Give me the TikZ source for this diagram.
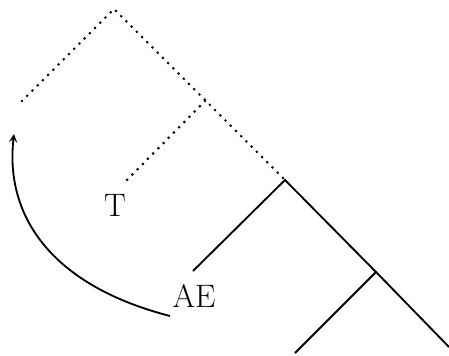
\documentclass[tikz,border=0pt]{standalone}
\usepackage{tikz}
\usetikzlibrary{arrows,positioning,calc}

\begin{document}
\begin{tikzpicture}[x=0.02cm, y=-0.02cm,
    dotline/.style={line width=1.7pt, line cap=round, dash pattern=on 0pt off 4.2pt},
    branch/.style={line width=1.05pt},
    lbl/.style={font=\fontsize{18.5}{20}\selectfont, inner sep=1pt}]
            \useasboundingbox (0,0) rectangle (449,355);
            \coordinate (top) at (114,9);
            \coordinate (lf) at (22,101);
            \coordinate (m1) at (205,101);
            \node[lbl] (t) at (115,205) {T};
            \coordinate (m2) at (285,180);
            \node[lbl] (ae) at (194,296) {AE};
            \coordinate (m3) at (376,272);
            \coordinate (b1) at (295,353);
            \coordinate (b2) at (449,347);
            \draw[dotline] (lf) -- (top) -- (m2);
            \draw[dotline] (m1) -- (123,184);
            \draw[branch] (193,271) -- (m2) -- (m3);
            \draw[branch] (b1) -- (m3) -- (b2);
            \draw[branch, -stealth] (170,316) .. controls (50,285) and (5,215) .. (14,134);
        \end{tikzpicture}
\end{document}
